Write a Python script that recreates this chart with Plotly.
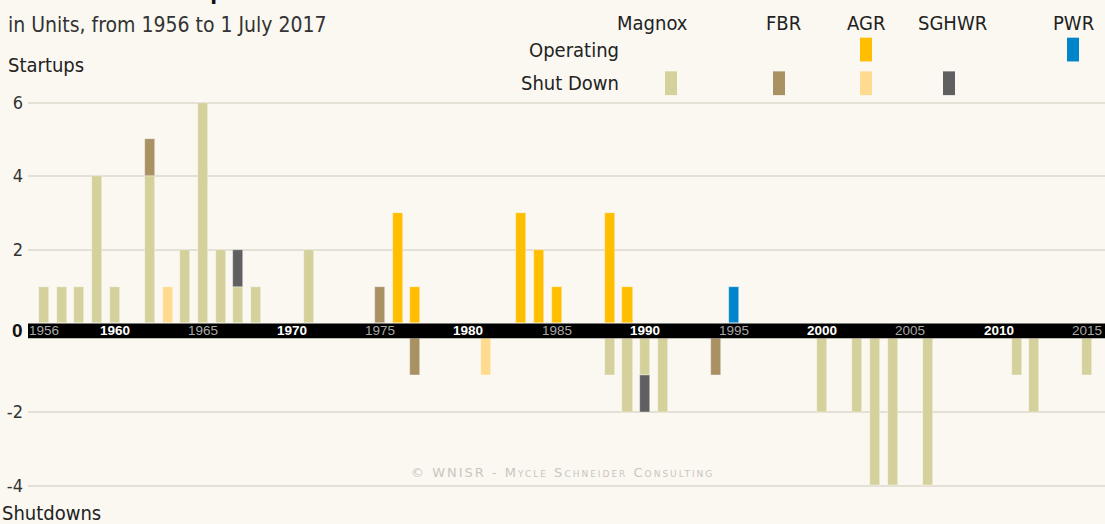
import plotly.graph_objects as go

W, H = 1105, 524

# ---------------- data ----------------
# Startups (positive)
up_magnox_years = [1956, 1957, 1958, 1959, 1960, 1962, 1964, 1965, 1966, 1967, 1968, 1971]
up_magnox = [1, 1, 1, 4, 1, 4, 2, 6, 2, 1, 1, 2]
up_fbr_years = [1962, 1975]
up_fbr = [1, 1]
up_agr_shut_years = [1963]
up_agr_shut = [1]
up_sghwr_years = [1967]
up_sghwr = [1]
up_agr_op_years = [1976, 1977, 1983, 1984, 1985, 1988, 1989]
up_agr_op = [3, 1, 3, 2, 1, 3, 1]
up_pwr_years = [1995]
up_pwr = [1]

# Shutdowns (negative)
dn_magnox_years = [1988, 1989, 1990, 1991, 2000, 2002, 2003, 2004, 2006, 2011, 2012, 2015]
dn_magnox = [-1, -2, -1, -2, -2, -2, -4, -4, -4, -1, -2, -1]
dn_fbr_years = [1977, 1994]
dn_fbr = [-1, -1]
dn_agr_shut_years = [1981]
dn_agr_shut = [-1]
dn_sghwr_years = [1990]
dn_sghwr = [-1]

year_ticks = [1956, 1960, 1965, 1970, 1975, 1980, 1985, 1990, 1995, 2000, 2005, 2010, 2015]
up_ticks = [2, 4, 6]
dn_ticks = [-2, -4]

# ---------------- style ----------------
BG = "#FAF8F1"
C_MAGNOX = "#D5D19C"
C_FBR = "#A99164"
C_AGR_OP = "#FFBE00"
C_AGR_SH = "#FFDB8F"
C_SGHWR = "#606060"
C_PWR = "#0084CA"
GRID = "#E4E0D6"
TXT = "#222222"
FONT = "Liberation Sans Narrow, DejaVu Sans Condensed, Roboto, sans-serif"
TICKFONT = "Liberation Sans, Arial, sans-serif"


def px_y(p):
    return 1 - p / H


def px_x(p):
    return p / W


BAR_W = 0.57
fig = go.Figure()


def add(years, vals, color, axis):
    fig.add_trace(go.Bar(
        x=years, y=vals, width=BAR_W, marker=dict(color=color, line=dict(width=0.6, color="rgba(255,255,255,0.6)")),
        xaxis="x" if axis == "y" else "x2", yaxis=axis, showlegend=False, hoverinfo="x+y",
    ))


add(up_magnox_years, up_magnox, C_MAGNOX, "y")
add(up_agr_shut_years, up_agr_shut, C_AGR_SH, "y")
add(up_agr_op_years, up_agr_op, C_AGR_OP, "y")
add(up_pwr_years, up_pwr, C_PWR, "y")
add(up_fbr_years, up_fbr, C_FBR, "y")
add(up_sghwr_years, up_sghwr, C_SGHWR, "y")

add(dn_magnox_years, dn_magnox, C_MAGNOX, "y2")
add(dn_agr_shut_years, dn_agr_shut, C_AGR_SH, "y2")
add(dn_fbr_years, dn_fbr, C_FBR, "y2")
add(dn_sghwr_years, dn_sghwr, C_SGHWR, "y2")

XR = [1955.1, 2016.0]
PU = 37.17  # px per unit
top0 = 321.5
bot0 = 336.5
up_range = [0, 6.15]
dn_range = [-4.3, 0]

x_dom = [px_x(28), 1]
fig.update_layout(
    width=W, height=H,
    paper_bgcolor=BG, plot_bgcolor=BG,
    margin=dict(l=0, r=0, t=0, b=0),
    barmode="relative",
    bargap=0,
    font=dict(family=FONT, color=TXT),
    xaxis=dict(domain=x_dom, range=XR, showticklabels=False, showgrid=False, zeroline=False,
               anchor="y", fixedrange=True),
    xaxis2=dict(domain=x_dom, range=XR, showticklabels=False, showgrid=False, zeroline=False,
                anchor="y2", matches="x", fixedrange=True),
    yaxis=dict(domain=[px_y(top0), px_y(top0 - up_range[1] * PU)], range=up_range,
               tickvals=up_ticks, ticktext=[str(v) for v in up_ticks],
               showgrid=True, gridcolor=GRID, gridwidth=1.5, zeroline=False,
               tickfont=dict(size=18, color="#333", family=FONT), ticks="", ticklabelstandoff=4,
               anchor="x", fixedrange=True),
    yaxis2=dict(domain=[px_y(bot0 - dn_range[0] * PU), px_y(bot0)], range=dn_range,
                tickvals=dn_ticks, ticktext=[str(v) for v in dn_ticks],
                showgrid=True, gridcolor=GRID, gridwidth=1.5, zeroline=False,
                tickfont=dict(size=18, color="#333", family=FONT), ticks="", ticklabelstandoff=4,
                anchor="x2", fixedrange=True),
)

shapes = []
annotations = []

# black axis band
shapes.append(dict(type="rect", xref="paper", yref="paper", x0=px_x(28), x1=1,
                   y0=px_y(bot0), y1=px_y(top0), fillcolor="#000000", line=dict(width=0), layer="above"))

band_mid = px_y((top0 + bot0) / 2)
for yr in year_ticks:
    decade = yr % 10 == 0
    annotations.append(dict(
        x=yr, xref="x", y=band_mid, yref="paper", showarrow=False,
        text=f"<b>{yr}</b>" if decade else str(yr),
        font=dict(size=13.5, family=TICKFONT, color="#FFFFFF" if decade else "#A8A8A8"),
        xanchor="center", yanchor="middle",
    ))

# zero label
annotations.append(dict(x=px_x(25), xref="paper", y=band_mid, yref="paper", showarrow=False,
                        text="<b>0</b>", font=dict(size=19, family=TICKFONT, color="#111"),
                        xanchor="right", yanchor="middle"))

# titles
annotations.append(dict(x=px_x(6), xref="paper", y=px_y(2.5), yref="paper", showarrow=False,
                        text="<b>UK Reactor Startups and Closures</b>", font=dict(size=22, color="#111"),
                        xanchor="left", yanchor="bottom"))
annotations.append(dict(x=px_x(6), xref="paper", y=px_y(20), yref="paper", showarrow=False,
                        text="in Units, from 1956 to 1 July 2017", font=dict(size=21, color="#333"),
                        xanchor="left", yanchor="middle"))
annotations.append(dict(x=px_x(6), xref="paper", y=px_y(61), yref="paper", showarrow=False,
                        text="Startups", font=dict(size=20, color="#222"),
                        xanchor="left", yanchor="middle"))
annotations.append(dict(x=px_x(0), xref="paper", y=px_y(513), yref="paper", showarrow=False,
                        text="Shutdowns", font=dict(size=20, color="#222"),
                        xanchor="left", yanchor="middle"))

# watermark
annotations.append(dict(x=px_x(562), xref="paper", y=px_y(472), yref="paper", showarrow=False,
                        text="<span style='letter-spacing:2px'>© WNISR - Mycle Schneider Consulting</span>",
                        font=dict(size=13, color="#C9C6BE", family="DejaVu Sans, sans-serif", variant="small-caps"),
                        xanchor="center", yanchor="middle"))

# custom legend
legend_cols = ["Magnox", "FBR", "AGR", "SGHWR", "PWR"]
legend_col_x = [652, 783, 866, 952, 1073]
legend_rows = ["Operating", "Shut Down"]
legend_row_y = [45, 79]
legend_cells = [
    (1, 0, C_MAGNOX), (1, 1, C_FBR), (0, 2, C_AGR_OP), (1, 2, C_AGR_SH), (1, 3, C_SGHWR), (0, 4, C_PWR),
]
swatch_x = [671, 779, 866, 949, 1073]
for name, cx in zip(legend_cols, legend_col_x):
    annotations.append(dict(x=px_x(cx), xref="paper", y=px_y(18), yref="paper", showarrow=False,
                            text=name, font=dict(size=20, color="#222"), xanchor="center", yanchor="middle"))
for name, ry in zip(legend_rows, legend_row_y):
    annotations.append(dict(x=px_x(621), xref="paper", y=px_y(ry), yref="paper", showarrow=False,
                            text=name, font=dict(size=20, color="#222"), xanchor="right", yanchor="middle"))
for r, c, col in legend_cells:
    cx = swatch_x[c]
    cy = legend_row_y[r]
    shapes.append(dict(type="rect", xref="paper", yref="paper",
                       x0=px_x(cx - 6), x1=px_x(cx + 6), y0=px_y(cy + 12), y1=px_y(cy - 12),
                       fillcolor=col, line=dict(width=0)))

fig.update_layout(shapes=shapes, annotations=annotations)
fig.write_html("out.html", config={"displayModeBar": False},
               post_script="document.body.style.margin='0';")
